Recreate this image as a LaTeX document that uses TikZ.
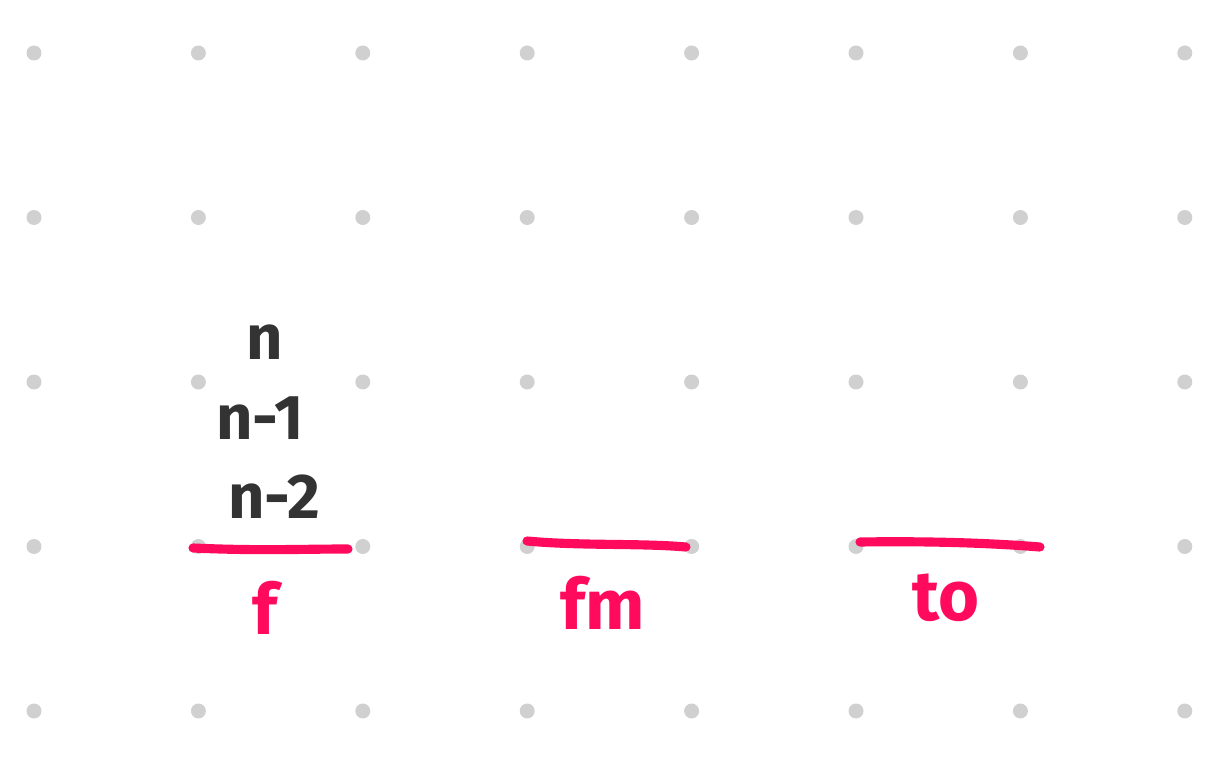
\documentclass[tikz,border=0pt]{standalone}
\usepackage{fontspec}
\setmainfont{Fira Sans}
\definecolor{dotgray}{HTML}{D0D0D0}
\definecolor{rod}{HTML}{FF0A5C}
\definecolor{ink}{HTML}{333333}
\tikzset{fig/.style={line join=round,line cap=round},
  disc/.style={font=\fontsize{36}{40}\selectfont\bfseries,text=ink,inner sep=0pt},
  peglabel/.style={font=\fontsize{40}{44}\selectfont\bfseries,text=rod,inner sep=0pt},
  peg/.style={rod,line width=5.2pt}}

\begin{document}
\begin{tikzpicture}[fig,x=0.02cm,y=-0.02cm]
  \useasboundingbox(0,0)rectangle(1208,760);
  % dot grid
  \foreach \i in {0,...,7}
    \foreach \j in {0,...,4}
      \fill[dotgray](34+164.4*\i,53+164.5*\j)circle[radius=0.15cm];
  % the three pegs
  \coordinate(fA)at(193,548);\coordinate(fB)at(348,549);
  \coordinate(mA)at(527,541);\coordinate(mB)at(686,547);
  \coordinate(tA)at(860,542);\coordinate(tB)at(1040,547);
  \draw[peg](fA)..controls(260,551)and(300,549)..(fB);
  \draw[peg](mA)..controls(580,546)and(640,543)..(mB);
  \draw[peg](tA)..controls(930,541)and(990,543)..(tB);
  % discs on the first peg
  \node[disc](dn)at(265,342){n};
  \node[disc](dn1)at(260,418){n-1};
  \node[disc](dn2)at(274,497){n-2};
  % peg names
  \node[peglabel](lf)at(265,608){f};
  \node[peglabel](lfm)at(603,603){fm};
  \node[peglabel](lto)at(946,598){to};
\end{tikzpicture}
\end{document}
